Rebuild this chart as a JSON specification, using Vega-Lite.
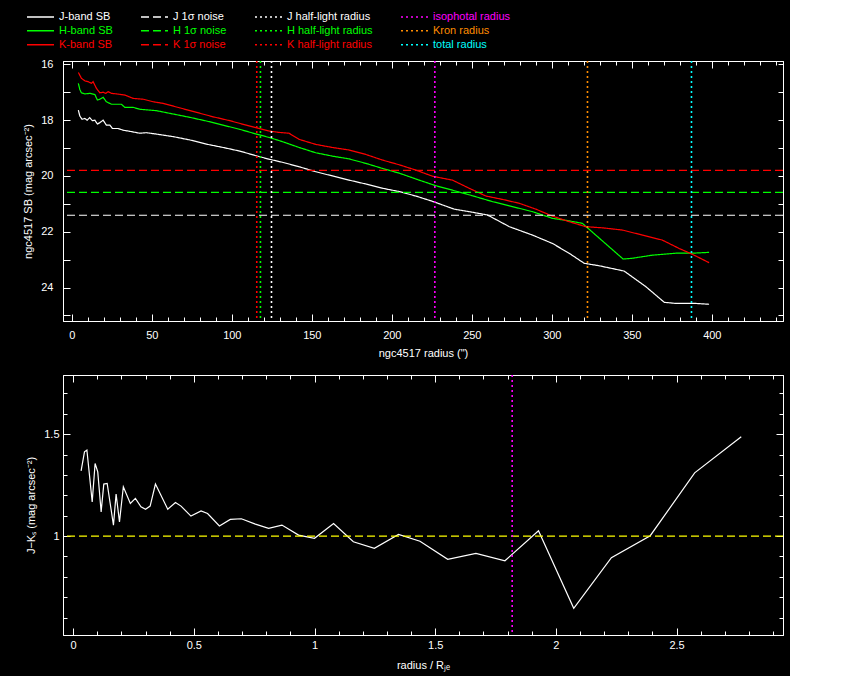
{
  "$schema": "https://vega.github.io/schema/vega-lite/v6.json",
  "background": "black",
  "padding": {"left": 22, "top": 10, "right": 5, "bottom": 5},
  "spacing": 54,
  "bounds": "flush",
  "config": {
    "view": {"stroke": "white", "strokeWidth": 1},
    "axis": {
      "domainColor": "white", "tickColor": "white", "labelColor": "white", "titleColor": "white",
      "labelFont": "Liberation Sans", "titleFont": "Liberation Sans",
      "labelFontSize": 11, "titleFontSize": 11, "titleFontWeight": "normal",
      "grid": false, "labelOverlap": false, "labelFlush": false, "tickWidth": 1
    }
  },
  "datasets": {
    "sb": [
      {"band": "J-band SB", "r": 4.1, "sb": 17.64}, {"band": "J-band SB", "r": 5.0, "sb": 17.85}, {"band": "J-band SB", "r": 6.4, "sb": 17.97},
      {"band": "J-band SB", "r": 8.1, "sb": 17.94}, {"band": "J-band SB", "r": 9.6, "sb": 18.0}, {"band": "J-band SB", "r": 11.2, "sb": 17.91},
      {"band": "J-band SB", "r": 12.9, "sb": 18.02}, {"band": "J-band SB", "r": 14.4, "sb": 18.0}, {"band": "J-band SB", "r": 16.0, "sb": 18.14},
      {"band": "J-band SB", "r": 17.5, "sb": 18.09}, {"band": "J-band SB", "r": 19.6, "sb": 18.0}, {"band": "J-band SB", "r": 21.6, "sb": 18.18},
      {"band": "J-band SB", "r": 23.8, "sb": 18.18}, {"band": "J-band SB", "r": 25.4, "sb": 18.3}, {"band": "J-band SB", "r": 28.9, "sb": 18.3},
      {"band": "J-band SB", "r": 32.1, "sb": 18.36}, {"band": "J-band SB", "r": 35.2, "sb": 18.39}, {"band": "J-band SB", "r": 42.5, "sb": 18.47},
      {"band": "J-band SB", "r": 46.6, "sb": 18.45}, {"band": "J-band SB", "r": 52.9, "sb": 18.5}, {"band": "J-band SB", "r": 63.3, "sb": 18.59},
      {"band": "J-band SB", "r": 73.8, "sb": 18.71}, {"band": "J-band SB", "r": 84.1, "sb": 18.86}, {"band": "J-band SB", "r": 94.6, "sb": 18.98},
      {"band": "J-band SB", "r": 105.0, "sb": 19.11}, {"band": "J-band SB", "r": 115.4, "sb": 19.28}, {"band": "J-band SB", "r": 123.3, "sb": 19.4},
      {"band": "J-band SB", "r": 131.6, "sb": 19.51}, {"band": "J-band SB", "r": 142.1, "sb": 19.67}, {"band": "J-band SB", "r": 152.5, "sb": 19.85},
      {"band": "J-band SB", "r": 162.9, "sb": 20.0}, {"band": "J-band SB", "r": 173.3, "sb": 20.15}, {"band": "J-band SB", "r": 183.8, "sb": 20.29},
      {"band": "J-band SB", "r": 194.1, "sb": 20.44}, {"band": "J-band SB", "r": 204.6, "sb": 20.56}, {"band": "J-band SB", "r": 215.0, "sb": 20.72},
      {"band": "J-band SB", "r": 225.4, "sb": 20.91}, {"band": "J-band SB", "r": 239.0, "sb": 21.19}, {"band": "J-band SB", "r": 248.3, "sb": 21.28},
      {"band": "J-band SB", "r": 259.8, "sb": 21.4}, {"band": "J-band SB", "r": 273.5, "sb": 21.82}, {"band": "J-band SB", "r": 287.9, "sb": 22.12},
      {"band": "J-band SB", "r": 300.4, "sb": 22.42}, {"band": "J-band SB", "r": 310.8, "sb": 22.77}, {"band": "J-band SB", "r": 320.2, "sb": 23.13},
      {"band": "J-band SB", "r": 329.6, "sb": 23.22}, {"band": "J-band SB", "r": 345.2, "sb": 23.41}, {"band": "J-band SB", "r": 358.8, "sb": 23.97},
      {"band": "J-band SB", "r": 370.3, "sb": 24.53}, {"band": "J-band SB", "r": 377.5, "sb": 24.57}, {"band": "J-band SB", "r": 390.0, "sb": 24.57},
      {"band": "J-band SB", "r": 398.3, "sb": 24.6},
      {"band": "H-band SB", "r": 4.1, "sb": 16.68}, {"band": "H-band SB", "r": 5.0, "sb": 16.9}, {"band": "H-band SB", "r": 6.0, "sb": 17.02},
      {"band": "H-band SB", "r": 8.1, "sb": 17.06}, {"band": "H-band SB", "r": 11.2, "sb": 17.04}, {"band": "H-band SB", "r": 14.4, "sb": 17.08},
      {"band": "H-band SB", "r": 16.0, "sb": 17.28}, {"band": "H-band SB", "r": 17.5, "sb": 17.25}, {"band": "H-band SB", "r": 19.6, "sb": 17.18},
      {"band": "H-band SB", "r": 21.6, "sb": 17.34}, {"band": "H-band SB", "r": 24.8, "sb": 17.43}, {"band": "H-band SB", "r": 31.0, "sb": 17.43},
      {"band": "H-band SB", "r": 33.1, "sb": 17.54}, {"band": "H-band SB", "r": 38.3, "sb": 17.54}, {"band": "H-band SB", "r": 42.5, "sb": 17.61},
      {"band": "H-band SB", "r": 52.9, "sb": 17.66}, {"band": "H-band SB", "r": 63.3, "sb": 17.78}, {"band": "H-band SB", "r": 73.8, "sb": 17.9},
      {"band": "H-band SB", "r": 84.1, "sb": 18.03}, {"band": "H-band SB", "r": 94.6, "sb": 18.18}, {"band": "H-band SB", "r": 105.0, "sb": 18.33},
      {"band": "H-band SB", "r": 115.4, "sb": 18.5}, {"band": "H-band SB", "r": 123.3, "sb": 18.62}, {"band": "H-band SB", "r": 131.6, "sb": 18.77},
      {"band": "H-band SB", "r": 142.1, "sb": 18.98}, {"band": "H-band SB", "r": 152.5, "sb": 19.17}, {"band": "H-band SB", "r": 162.9, "sb": 19.29},
      {"band": "H-band SB", "r": 173.3, "sb": 19.39}, {"band": "H-band SB", "r": 183.8, "sb": 19.55}, {"band": "H-band SB", "r": 194.1, "sb": 19.73},
      {"band": "H-band SB", "r": 204.6, "sb": 19.9}, {"band": "H-band SB", "r": 217.1, "sb": 20.15}, {"band": "H-band SB", "r": 227.5, "sb": 20.35},
      {"band": "H-band SB", "r": 237.9, "sb": 20.51}, {"band": "H-band SB", "r": 250.4, "sb": 20.71}, {"band": "H-band SB", "r": 262.9, "sb": 20.92},
      {"band": "H-band SB", "r": 275.4, "sb": 21.1}, {"band": "H-band SB", "r": 287.9, "sb": 21.28}, {"band": "H-band SB", "r": 300.4, "sb": 21.52},
      {"band": "H-band SB", "r": 310.8, "sb": 21.61}, {"band": "H-band SB", "r": 319.1, "sb": 21.7}, {"band": "H-band SB", "r": 344.6, "sb": 22.98},
      {"band": "H-band SB", "r": 350.4, "sb": 22.95}, {"band": "H-band SB", "r": 362.9, "sb": 22.84}, {"band": "H-band SB", "r": 377.5, "sb": 22.77},
      {"band": "H-band SB", "r": 387.9, "sb": 22.77}, {"band": "H-band SB", "r": 398.3, "sb": 22.74},
      {"band": "K-band SB", "r": 4.1, "sb": 16.29}, {"band": "K-band SB", "r": 6.0, "sb": 16.5}, {"band": "K-band SB", "r": 8.1, "sb": 16.59},
      {"band": "K-band SB", "r": 10.2, "sb": 16.62}, {"band": "K-band SB", "r": 12.3, "sb": 16.68}, {"band": "K-band SB", "r": 13.3, "sb": 16.62},
      {"band": "K-band SB", "r": 15.4, "sb": 16.86}, {"band": "K-band SB", "r": 17.5, "sb": 17.02}, {"band": "K-band SB", "r": 19.6, "sb": 17.0},
      {"band": "K-band SB", "r": 21.2, "sb": 17.04}, {"band": "K-band SB", "r": 22.7, "sb": 16.98}, {"band": "K-band SB", "r": 24.8, "sb": 17.04},
      {"band": "K-band SB", "r": 27.9, "sb": 17.06}, {"band": "K-band SB", "r": 33.1, "sb": 17.1}, {"band": "K-band SB", "r": 38.3, "sb": 17.22},
      {"band": "K-band SB", "r": 44.6, "sb": 17.25}, {"band": "K-band SB", "r": 50.8, "sb": 17.34}, {"band": "K-band SB", "r": 57.1, "sb": 17.4},
      {"band": "K-band SB", "r": 67.5, "sb": 17.56}, {"band": "K-band SB", "r": 77.9, "sb": 17.72}, {"band": "K-band SB", "r": 88.3, "sb": 17.88},
      {"band": "K-band SB", "r": 98.8, "sb": 18.02}, {"band": "K-band SB", "r": 109.1, "sb": 18.18}, {"band": "K-band SB", "r": 117.0, "sb": 18.3},
      {"band": "K-band SB", "r": 123.3, "sb": 18.39}, {"band": "K-band SB", "r": 129.6, "sb": 18.44}, {"band": "K-band SB", "r": 135.8, "sb": 18.47},
      {"band": "K-band SB", "r": 142.1, "sb": 18.69}, {"band": "K-band SB", "r": 152.5, "sb": 18.87}, {"band": "K-band SB", "r": 162.9, "sb": 18.98},
      {"band": "K-band SB", "r": 173.3, "sb": 19.07}, {"band": "K-band SB", "r": 183.8, "sb": 19.23}, {"band": "K-band SB", "r": 194.1, "sb": 19.43},
      {"band": "K-band SB", "r": 204.6, "sb": 19.6}, {"band": "K-band SB", "r": 215.0, "sb": 19.79}, {"band": "K-band SB", "r": 225.4, "sb": 20.01},
      {"band": "K-band SB", "r": 237.9, "sb": 20.15}, {"band": "K-band SB", "r": 248.3, "sb": 20.44}, {"band": "K-band SB", "r": 258.8, "sb": 20.72},
      {"band": "K-band SB", "r": 269.1, "sb": 20.84}, {"band": "K-band SB", "r": 279.6, "sb": 20.98}, {"band": "K-band SB", "r": 290.0, "sb": 21.19},
      {"band": "K-band SB", "r": 300.4, "sb": 21.44}, {"band": "K-band SB", "r": 310.8, "sb": 21.64}, {"band": "K-band SB", "r": 321.3, "sb": 21.82},
      {"band": "K-band SB", "r": 331.6, "sb": 21.86}, {"band": "K-band SB", "r": 344.1, "sb": 21.94}, {"band": "K-band SB", "r": 356.6, "sb": 22.12},
      {"band": "K-band SB", "r": 369.1, "sb": 22.3}, {"band": "K-band SB", "r": 379.6, "sb": 22.6}, {"band": "K-band SB", "r": 387.9, "sb": 22.81},
      {"band": "K-band SB", "r": 398.3, "sb": 23.11}
    ],
    "noise": [
      {"band": "J 1σ noise", "sb": 21.41},
      {"band": "H 1σ noise", "sb": 20.59},
      {"band": "K 1σ noise", "sb": 19.8}
    ],
    "radii": [
      {"band": "K half-light radius", "r": 115.6},
      {"band": "H half-light radius", "r": 117.9},
      {"band": "J half-light radius", "r": 124.8},
      {"band": "isophotal radius", "r": 226.9},
      {"band": "Kron radius", "r": 322.3},
      {"band": "total radius", "r": 387.3}
    ],
    "colour": [
      {"u": 0.033, "jk": 1.32}, {"u": 0.047, "jk": 1.413}, {"u": 0.057, "jk": 1.422}, {"u": 0.079, "jk": 1.168},
      {"u": 0.091, "jk": 1.356}, {"u": 0.102, "jk": 1.315}, {"u": 0.116, "jk": 1.119}, {"u": 0.127, "jk": 1.255},
      {"u": 0.141, "jk": 1.258}, {"u": 0.167, "jk": 1.054}, {"u": 0.178, "jk": 1.206}, {"u": 0.192, "jk": 1.07},
      {"u": 0.208, "jk": 1.242}, {"u": 0.237, "jk": 1.16}, {"u": 0.258, "jk": 1.185}, {"u": 0.281, "jk": 1.144},
      {"u": 0.3, "jk": 1.132}, {"u": 0.319, "jk": 1.147}, {"u": 0.341, "jk": 1.255}, {"u": 0.392, "jk": 1.132},
      {"u": 0.424, "jk": 1.165}, {"u": 0.447, "jk": 1.147}, {"u": 0.488, "jk": 1.098}, {"u": 0.53, "jk": 1.123},
      {"u": 0.557, "jk": 1.111}, {"u": 0.606, "jk": 1.05}, {"u": 0.651, "jk": 1.082}, {"u": 0.697, "jk": 1.085},
      {"u": 0.755, "jk": 1.059}, {"u": 0.81, "jk": 1.038}, {"u": 0.865, "jk": 1.054}, {"u": 0.934, "jk": 1.005},
      {"u": 1.0, "jk": 0.989}, {"u": 1.079, "jk": 1.062}, {"u": 1.161, "jk": 0.972}, {"u": 1.248, "jk": 0.94},
      {"u": 1.348, "jk": 1.008}, {"u": 1.437, "jk": 0.975}, {"u": 1.552, "jk": 0.886}, {"u": 1.669, "jk": 0.915},
      {"u": 1.789, "jk": 0.879}, {"u": 1.928, "jk": 1.026}, {"u": 2.074, "jk": 0.646}, {"u": 2.23, "jk": 0.894},
      {"u": 2.391, "jk": 1.002}, {"u": 2.575, "jk": 1.31}, {"u": 2.768, "jk": 1.487}
    ],
    "jkref": [{"jk": 1.0}],
    "iso": [{"u": 1.819}]
  },
  "vconcat": [
    {
      "width": 720,
      "height": 260,
      "layer": [
        {
          "data": {"name": "sb"},
          "mark": {"type": "line", "strokeWidth": 1.2},
          "encoding": {
            "x": {
              "field": "r", "type": "quantitative",
              "scale": {"domain": [-5.5, 444.5], "nice": false, "zero": false},
              "axis": {
                "orient": "bottom", "title": "ngc4517 radius (\")",
                "values": [0, 10, 20, 30, 40, 50, 60, 70, 80, 90, 100, 110, 120, 130, 140, 150, 160, 170, 180, 190, 200, 210, 220, 230, 240, 250, 260, 270, 280, 290, 300, 310, 320, 330, 340, 350, 360, 370, 380, 390, 400, 410, 420, 430, 440],
                "format": "d",
                "labelExpr": "datum.value % 50 === 0 ? datum.label : ''",
                "tickSize": {"condition": {"test": "datum.value % 50 === 0", "value": -7}, "value": -4},
                "labelPadding": 15, "titlePadding": 4
              }
            },
            "y": {
              "field": "sb", "type": "quantitative",
              "scale": {"domain": [15.88, 25.2], "reverse": true, "nice": false, "zero": false},
              "axis": {
                "orient": "left", "title": "ngc4517 SB (mag arcsec⁻²)",
                "values": [16, 17, 18, 19, 20, 21, 22, 23, 24, 25],
                "labelExpr": "datum.value % 2 === 0 ? datum.label : ''",
                "tickSize": -7, "labelPadding": 17, "titlePadding": 7
              }
            },
            "color": {
              "field": "band", "type": "nominal",
              "scale": {
                "domain": ["J-band SB", "J 1σ noise", "J half-light radius", "isophotal radius", "H-band SB", "H 1σ noise", "H half-light radius", "Kron radius", "K-band SB", "K 1σ noise", "K half-light radius", "total radius"],
                "range": ["white", "white", "white", "#ff00ff", "#00ff00", "#00ff00", "#00ff00", "#ff8c00", "#ff0000", "#ff0000", "#ff0000", "#00ffff"]
              },
              "legend": {
                "orient": "none", "legendX": -37, "legendY": -51, "columns": 4, "direction": "horizontal", "title": null,
                "symbolType": "stroke", "symbolSize": 729, "symbolStrokeWidth": 1.5, "clipHeight": 13.5,
                "labelFont": "Liberation Sans", "labelFontSize": 11, "labelOffset": 4, "columnPadding": 27, "rowPadding": 0,
                "encode": {"labels": {"update": {"fill": {"scale": "color", "field": "value"}}}}
              }
            },
            "strokeDash": {
              "field": "band", "type": "nominal",
              "scale": {
                "domain": ["J-band SB", "J 1σ noise", "J half-light radius", "isophotal radius", "H-band SB", "H 1σ noise", "H half-light radius", "Kron radius", "K-band SB", "K 1σ noise", "K half-light radius", "total radius"],
                "range": [[1, 0], [8, 4], [2, 3], [2, 3], [1, 0], [8, 4], [2, 3], [2, 3], [1, 0], [8, 4], [2, 3], [2, 3]]
              },
              "legend": {
                "orient": "none", "legendX": -37, "legendY": -51, "columns": 4, "direction": "horizontal", "title": null,
                "symbolType": "stroke", "symbolSize": 729, "symbolStrokeWidth": 1.5, "clipHeight": 13.5,
                "labelFont": "Liberation Sans", "labelFontSize": 11, "labelOffset": 4, "columnPadding": 27, "rowPadding": 0,
                "encode": {"labels": {"update": {"fill": {"scale": "color", "field": "value"}}}}
              }
            }
          }
        },
        {
          "data": {"name": "noise"},
          "mark": {"type": "rule", "strokeWidth": 1.2},
          "encoding": {
            "y": {
              "field": "sb", "type": "quantitative",
              "scale": {"domain": [15.88, 25.2], "reverse": true, "nice": false, "zero": false},
              "axis": {"orient": "right", "title": null, "labels": false, "values": [16, 17, 18, 19, 20, 21, 22, 23, 24, 25], "tickSize": -5}
            },
            "color": {"field": "band", "type": "nominal"},
            "strokeDash": {"field": "band", "type": "nominal"}
          }
        },
        {
          "data": {"name": "radii"},
          "mark": {"type": "rule", "strokeWidth": 1.6},
          "encoding": {
            "x": {
              "field": "r", "type": "quantitative",
              "scale": {"domain": [-5.5, 444.5], "nice": false, "zero": false},
              "axis": {
                "orient": "top", "title": null, "labels": false,
                "values": [0, 10, 20, 30, 40, 50, 60, 70, 80, 90, 100, 110, 120, 130, 140, 150, 160, 170, 180, 190, 200, 210, 220, 230, 240, 250, 260, 270, 280, 290, 300, 310, 320, 330, 340, 350, 360, 370, 380, 390, 400, 410, 420, 430, 440],
                "tickSize": {"condition": {"test": "datum.value % 50 === 0", "value": -7}, "value": -4}
              }
            },
            "color": {"field": "band", "type": "nominal"},
            "strokeDash": {"field": "band", "type": "nominal"}
          }
        }
      ]
    },
    {
      "width": 720,
      "height": 260,
      "layer": [
        {
          "data": {"name": "colour"},
          "mark": {"type": "line", "color": "white", "strokeWidth": 1.2},
          "encoding": {
            "x": {
              "field": "u", "type": "quantitative",
              "scale": {"domain": [-0.042, 2.941], "nice": false, "zero": false},
              "axis": {
                "orient": "bottom", "title": "radius / Rⱼₑ",
                "values": [0, 0.1, 0.2, 0.3, 0.4, 0.5, 0.6, 0.7, 0.8, 0.9, 1, 1.1, 1.2, 1.3, 1.4, 1.5, 1.6, 1.7, 1.8, 1.9, 2, 2.1, 2.2, 2.3, 2.4, 2.5, 2.6, 2.7, 2.8, 2.9],
                "format": "~g",
                "labelExpr": "round(datum.value * 10) % 5 === 0 ? datum.label : ''",
                "tickSize": {"condition": {"test": "round(datum.value * 10) % 5 === 0", "value": -7}, "value": -4},
                "labelPadding": 11, "titlePadding": 6
              }
            },
            "y": {
              "field": "jk", "type": "quantitative",
              "scale": {"domain": [0.515, 1.79], "nice": false, "zero": false},
              "axis": {
                "orient": "left", "title": "J−Kₛ (mag arcsec⁻²)",
                "values": [0.6, 0.7, 0.8, 0.9, 1, 1.1, 1.2, 1.3, 1.4, 1.5, 1.6, 1.7],
                "format": "~g",
                "labelExpr": "round(datum.value * 10) % 5 === 0 ? datum.label : ''",
                "tickSize": {"condition": {"test": "round(datum.value * 10) % 5 === 0", "value": -7}, "value": -4},
                "labelPadding": 11, "titlePadding": 7
              }
            }
          }
        },
        {
          "data": {"name": "jkref"},
          "mark": {"type": "rule", "color": "yellow", "strokeWidth": 1.2, "strokeDash": [8, 4]},
          "encoding": {
            "y": {
              "field": "jk", "type": "quantitative",
              "scale": {"domain": [0.515, 1.79], "nice": false, "zero": false},
              "axis": {
                "orient": "right", "title": null, "labels": false,
                "values": [0.6, 0.7, 0.8, 0.9, 1, 1.1, 1.2, 1.3, 1.4, 1.5, 1.6, 1.7],
                "tickSize": {"condition": {"test": "round(datum.value * 10) % 5 === 0", "value": -7}, "value": -4}
              }
            }
          }
        },
        {
          "data": {"name": "iso"},
          "mark": {"type": "rule", "color": "#ff00ff", "strokeWidth": 1.6, "strokeDash": [2, 3]},
          "encoding": {
            "x": {
              "field": "u", "type": "quantitative",
              "scale": {"domain": [-0.042, 2.941], "nice": false, "zero": false},
              "axis": {
                "orient": "top", "title": null, "labels": false,
                "values": [0, 0.1, 0.2, 0.3, 0.4, 0.5, 0.6, 0.7, 0.8, 0.9, 1, 1.1, 1.2, 1.3, 1.4, 1.5, 1.6, 1.7, 1.8, 1.9, 2, 2.1, 2.2, 2.3, 2.4, 2.5, 2.6, 2.7, 2.8, 2.9],
                "tickSize": {"condition": {"test": "round(datum.value * 10) % 5 === 0", "value": -7}, "value": -4}
              }
            }
          }
        }
      ]
    }
  ]
}
